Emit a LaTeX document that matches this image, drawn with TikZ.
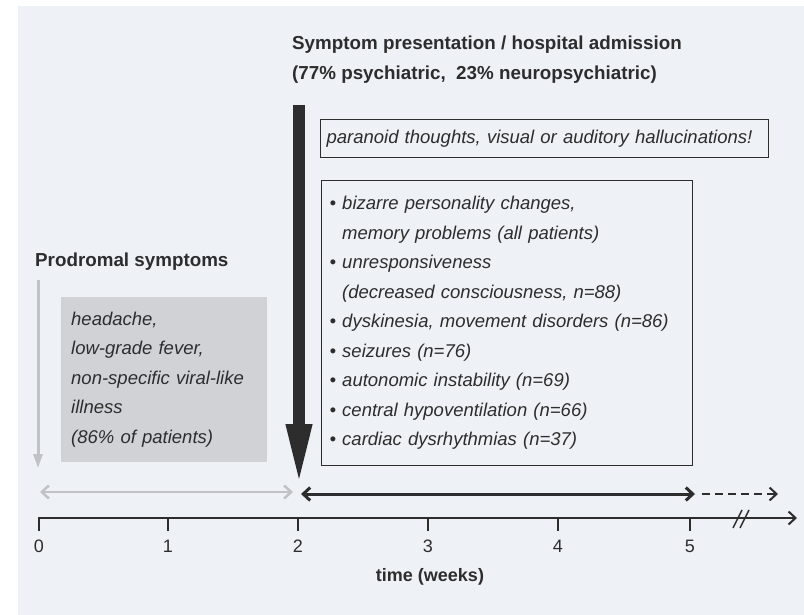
\documentclass[tikz,border=0pt]{standalone}
\usepackage{fontspec}
\setmainfont{Liberation Sans}
\usetikzlibrary{arrows.meta,positioning}
\definecolor{paper}{RGB}{238,241,245}
\definecolor{ink}{RGB}{45,45,45}
\definecolor{pale}{RGB}{192,194,198}
\definecolor{shade}{RGB}{208,210,214}
\tikzset{
  heading/.style={anchor=west,font=\bfseries\fontsize{18.8}{30}\selectfont,text=ink,align=left,inner sep=0pt},
  itext/.style={font=\itshape\fontsize{18.5}{29.5}\selectfont,text=ink,align=left},
  tick/.style={below=5pt,font=\fontsize{18}{20}\selectfont,text=ink},
}
\newcommand{\blt}{\textbullet\ }
\newcommand{\nob}{\phantom{\textbullet\ }}
\begin{document}
\begin{tikzpicture}[x=1pt,y=-1pt,>={Straight Barb[length=7pt,width=13pt]}]
    \useasboundingbox (0,0) rectangle (804,615);
    \fill[white] (0,0) rectangle (804,615);
    \fill[paper] (18,6) rectangle (804,615);
    % headings
    \node[heading] (title) at (292,60) {Symptom presentation / hospital admission\\(77\% psychiatric,\ \ 23\% neuropsychiatric)};
    \node[heading] (prodtitle) at (35,262) {Prodromal symptoms};
    % boxes
    \node[itext,draw=ink,line width=1.2pt,anchor=north west,minimum width=448,minimum height=38,text width=436,inner sep=6pt] (paranoid) at (320,119) {paranoid thoughts, visual or auditory hallucinations!};
    \node[itext,draw=ink,line width=1.2pt,anchor=north west,minimum width=369,minimum height=285,text width=355,inner sep=8pt] (symptoms) at (321,180) {%
      \blt bizarre personality changes,\\
      \nob memory problems (all patients)\\
      \blt unresponsiveness\\
      \nob (decreased consciousness, n=88)\\
      \blt dyskinesia, movement disorders (n=86)\\
      \blt seizures (n=76)\\
      \blt autonomic instability (n=69)\\
      \blt central hypoventilation (n=66)\\
      \blt cardiac dysrhythmias (n=37)};
    \node[itext,fill=shade,anchor=north west,minimum width=206,minimum height=165,text width=186,inner sep=10pt] (prodbox) at (61,297) {headache,\\low-grade fever,\\non-specific viral-like\\illness\\(86\% of patients)};
    % onset arrows
    \coordinate (prodstart) at (38,280);
    \coordinate (prodend) at (38,468);
    \draw[pale,line width=3pt,-{Triangle[length=14pt,width=9pt]}] (prodstart) -- (prodend);
    \coordinate (admstart) at (299,105);
    \coordinate (admend) at (299,488);
    \draw[ink,line width=12pt,-{Triangle[length=64pt,width=23pt]}] (admstart) -- (admend);
    % phases
    \coordinate (w0) at (40,492);
    \coordinate (w2) at (293,492);
    \coordinate (a2) at (301,494);
    \coordinate (a5) at (695,494);
    \coordinate (b5) at (702,494);
    \coordinate (b6) at (778,494);
    \draw[pale,line width=2.5pt,<->] (w0) -- (w2);
    \draw[ink,line width=3pt,<->] (a2) -- (a5);
    \draw[ink,line width=2pt,dashed,dash pattern=on 8pt off 5pt,->] (b5) -- (b6);
    % time axis
    \coordinate (origin) at (38,518);
    \coordinate (axisend) at (797,518);
    \draw[ink,line width=2pt,->] (origin) -- (axisend);
    \foreach \w/\xx in {0/39,1/168,2/298,3/428,4/558,5/690}
        \draw[ink,line width=2pt] (\xx,517) -- (\xx,531) node[tick] (t\w) {\w};
    \draw[ink,line width=1.5pt] (733,528) -- (742,510) (740,528) -- (749,510);
    \node[font=\bfseries\fontsize{18}{20}\selectfont,text=ink] (timelabel) at (430,577) {time (weeks)};
\end{tikzpicture}
\end{document}
